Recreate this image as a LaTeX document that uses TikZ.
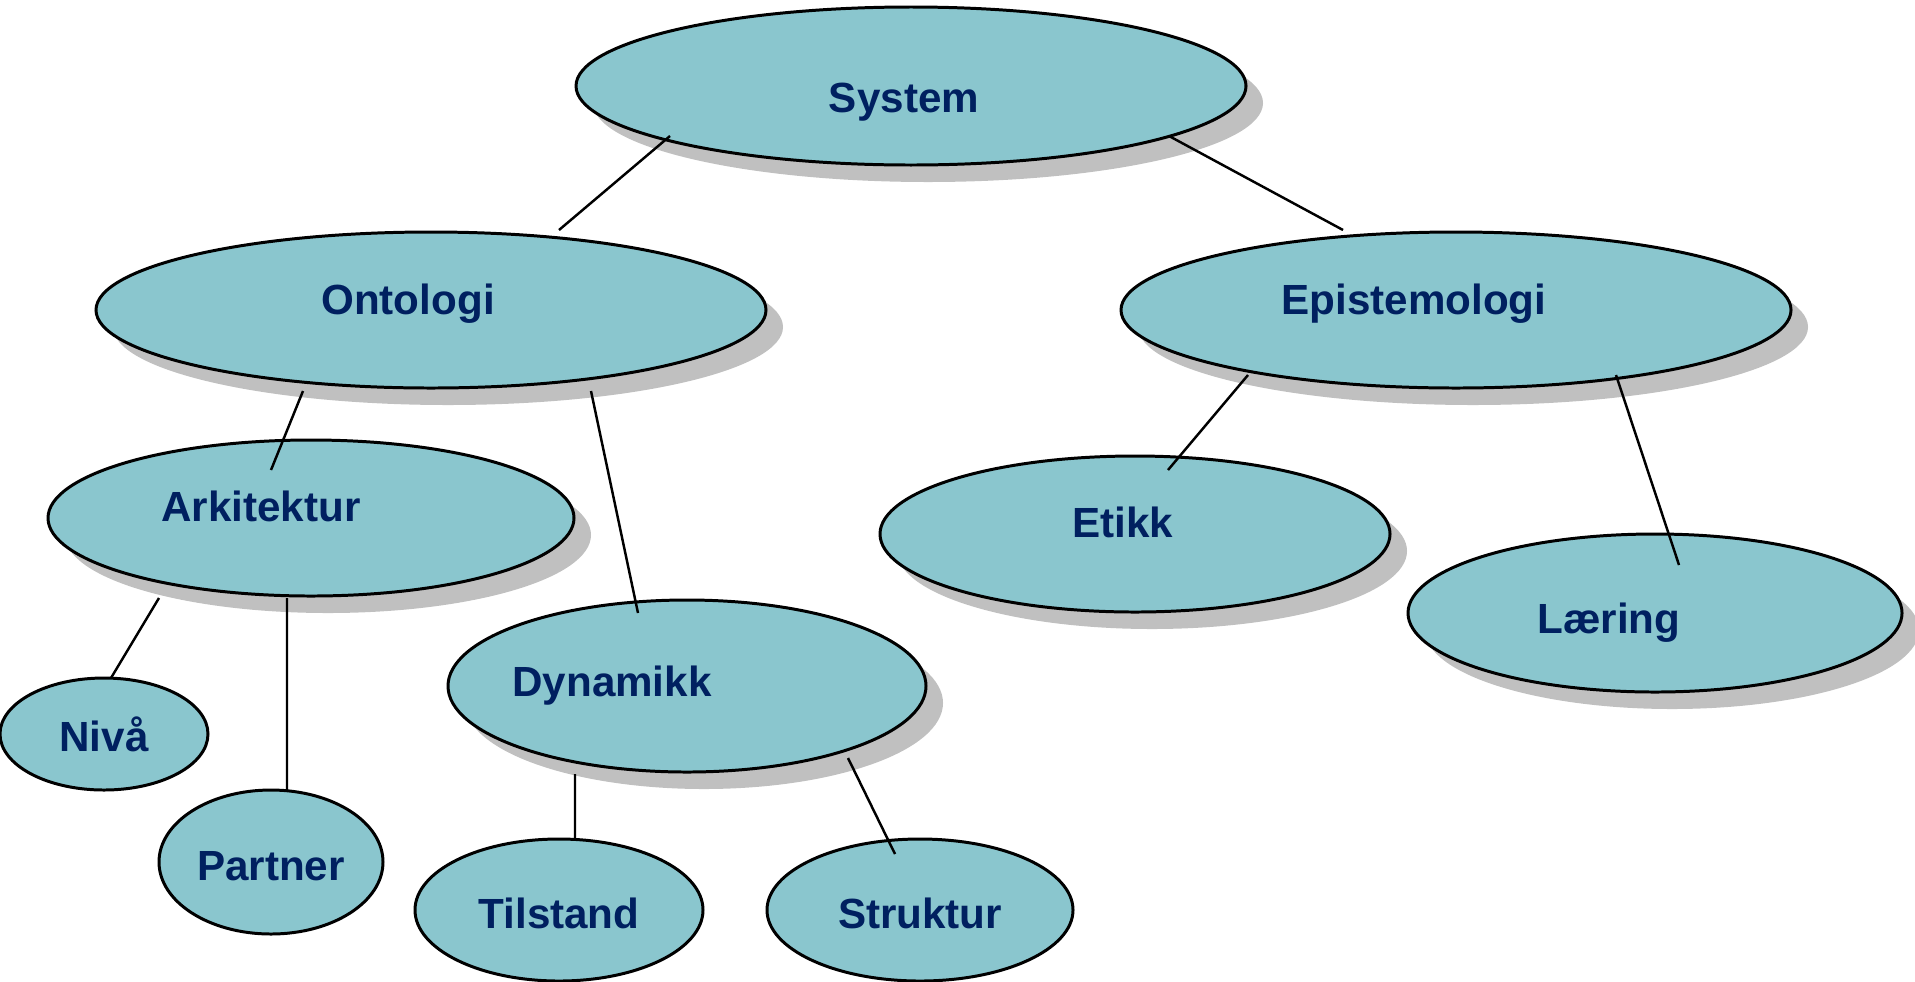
\documentclass[tikz,border=0pt]{standalone}
\usepackage{fontspec}
\setmainfont{Liberation Sans}
\usetikzlibrary{positioning,shapes.geometric,shadows}
\definecolor{boxfill}{RGB}{138,198,206}
\definecolor{navy}{RGB}{0,32,96}
\definecolor{shade}{RGB}{192,192,192}

\begin{document}
\begin{tikzpicture}[on grid,
	oval/.style={ellipse, draw, line width=0.85pt, fill=boxfill, inner sep=0pt},
	shad/.style={drop shadow={shadow xshift=0.17cm, shadow yshift=-0.17cm, fill=shade, opacity=1}},
	lbl/.style={anchor=base, text=navy, font=\fontsize{12}{14}\selectfont\bfseries},
	link/.style={line width=0.7pt}]
		\useasboundingbox (0,0) rectangle (19.15,-9.81);

		% top levels
		\node[oval, shad, minimum width=6.70cm, minimum height=1.58cm] (sys) at (9.11,-0.86) {};
		\node[oval, shad, minimum width=6.70cm, minimum height=1.56cm, below left=2.24cm and 4.80cm of sys] (onto) {};
		\node[oval, shad, minimum width=6.70cm, minimum height=1.56cm, below right=2.24cm and 5.45cm of sys] (epi) {};
		\node[oval, shad, minimum width=5.26cm, minimum height=1.56cm, below left=2.08cm and 1.20cm of onto] (ark) {};
		\node[oval, shad, minimum width=4.78cm, minimum height=1.72cm, below right=3.76cm and 2.56cm of onto] (dyn) {};
		\node[oval, shad, minimum width=5.10cm, minimum height=1.56cm, below left=2.24cm and 3.21cm of epi] (etikk) {};
		\node[oval, shad, minimum width=4.94cm, minimum height=1.58cm, below right=3.03cm and 1.99cm of epi] (laer) {};

		% leaves
		\node[oval, minimum width=2.08cm, minimum height=1.12cm, below left=2.16cm and 2.07cm of ark] (niva) {};
		\node[oval, minimum width=2.24cm, minimum height=1.44cm, below left=3.44cm and 0.40cm of ark] (partner) {};
		\node[oval, minimum width=2.88cm, minimum height=1.42cm, below left=2.24cm and 1.28cm of dyn] (tilst) {};
		\node[oval, minimum width=3.06cm, minimum height=1.42cm, below right=2.24cm and 2.33cm of dyn] (strukt) {};

		% texts
		\node[lbl] (sys-t) at ([shift={(-0.07,-0.26)}]sys.center) {System};
		\node[lbl] (onto-t) at ([shift={(-0.23,-0.04)}]onto.center) {Ontologi};
		\node[lbl] (epi-t) at ([shift={(-0.42,-0.04)}]epi.center) {Epistemologi};
		\node[lbl] (ark-t) at ([shift={(-0.50,-0.03)}]ark.center) {Arkitektur};
		\node[lbl] (dyn-t) at ([shift={(-0.75,-0.10)}]dyn.center) {Dynamikk};
		\node[lbl] (etikk-t) at ([shift={(-0.12,-0.03)}]etikk.center) {Etikk};
		\node[lbl] (laer-t) at ([shift={(-0.46,-0.20)}]laer.center) {Læring};
		\node[lbl] (niva-t) at ([shift={(0,-0.17)}]niva.center) {Nivå};
		\node[lbl] (partner-t) at ([shift={(0,-0.18)}]partner.center) {Partner};
		\node[lbl] (tilst-t) at ([shift={(0,-0.18)}]tilst.center) {Tilstand};
		\node[lbl] (strukt-t) at ([shift={(0,-0.18)}]strukt.center) {Struktur};

		% links
		\draw[link] ([shift={(-2.41,-0.50)}]sys.center) -- ([shift={(1.28,0.80)}]onto.center);
		\draw[link] ([shift={(2.58,-0.50)}]sys.center) -- ([shift={(-1.13,0.80)}]epi.center);
		\draw[link] ([shift={(-1.28,-0.81)}]onto.center) -- ([shift={(-0.40,0.48)}]ark.center);
		\draw[link] ([shift={(1.60,-0.81)}]onto.center) -- ([shift={(-0.49,0.73)}]dyn.center);
		\draw[link] ([shift={(-2.08,-0.65)}]epi.center) -- ([shift={(0.33,0.64)}]etikk.center);
		\draw[link] ([shift={(1.60,-0.65)}]epi.center) -- ([shift={(0.24,0.48)}]laer.center);
		\draw[link] ([shift={(-1.52,-0.80)}]ark.center) -- ([shift={(0.07,0.56)}]niva.center);
		\draw[link] ([shift={(-0.24,-0.80)}]ark.center) -- ([shift={(0.16,0.72)}]partner.center);
		\draw[link] ([shift={(-1.12,-0.88)}]dyn.center) -- ([shift={(0.16,0.72)}]tilst.center);
		\draw[link] ([shift={(1.61,-0.72)}]dyn.center) -- ([shift={(-0.25,0.56)}]strukt.center);
	\end{tikzpicture}
\end{document}
